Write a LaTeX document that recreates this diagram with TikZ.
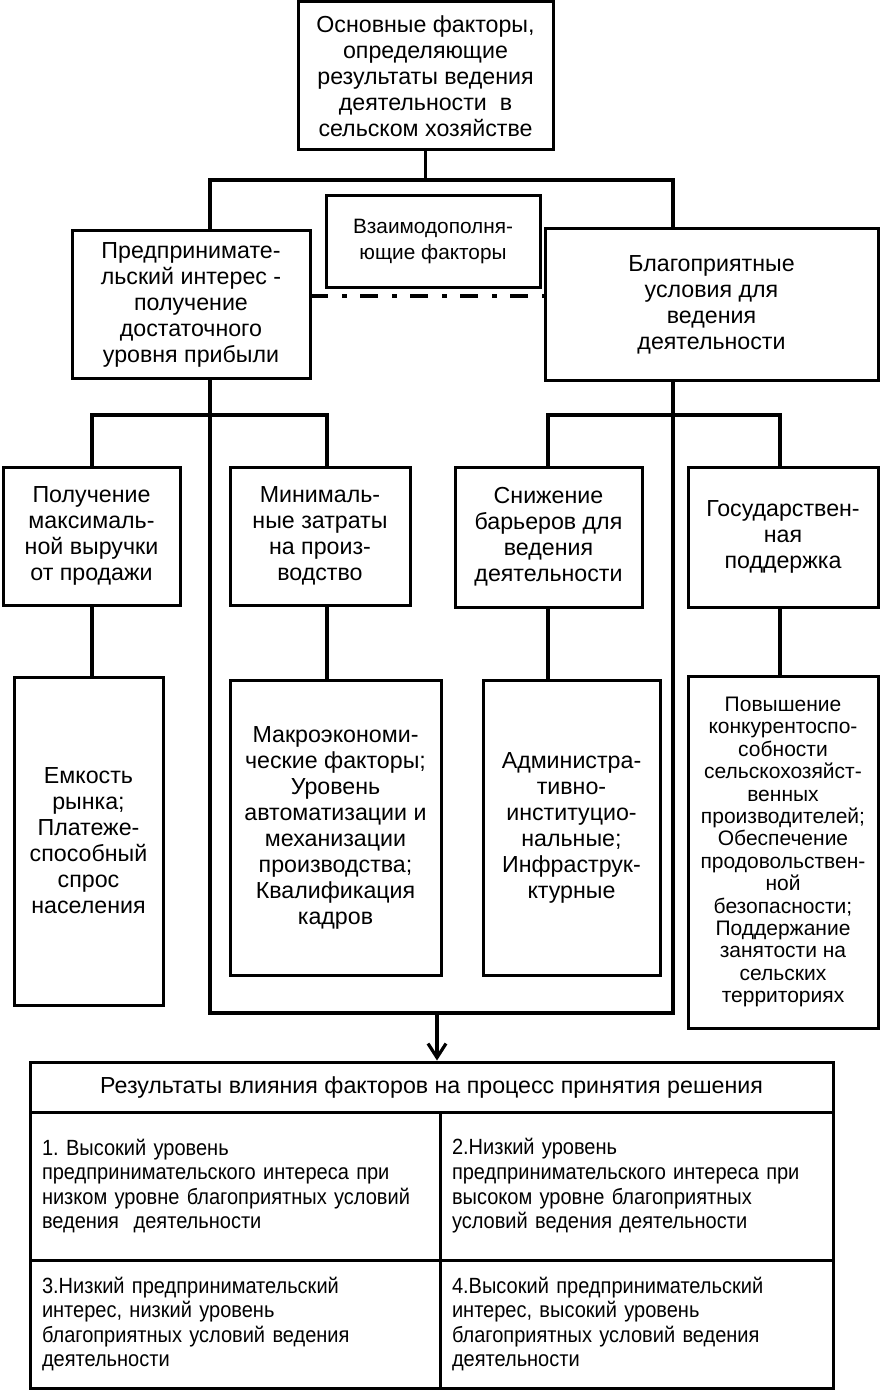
\documentclass[tikz,border=0pt]{standalone}
\usepackage{fontspec}
\setmainfont{Liberation Sans}
\newfontfamily\narrowfont[FakeStretch=0.91]{Liberation Sans}
\usetikzlibrary{arrows.meta}
\frenchspacing

\begin{document}
\begin{tikzpicture}[x=0.5pt,y=-0.5pt,
    box/.style={draw,line width=1.5pt,align=center,inner sep=0pt,font=\fontsize{11.6}{13}\selectfont},
    cell/.style={draw,line width=1.5pt,align=left,inner sep=6pt,font=\narrowfont\fontsize{11}{12.3}\selectfont},
    link/.style={line width=1.6pt}]
                \useasboundingbox (0,0) rectangle (881,1390);
                % top and first level
                \node[box,minimum width=127.5pt,minimum height=74pt] (top) at (425.5,76) {Основные факторы,\\определяющие\\результаты ведения\\деятельности\ \ в\\сельском хозяйстве};
                \node[box,minimum width=107pt,minimum height=46pt,font=\fontsize{10.4}{13}\selectfont] (mutual) at (433,242) {Взаимодополня-\\ющие факторы};
                \node[box,minimum width=119pt,minimum height=73.5pt] (interest) at (191,304.5) {Предпринимате-\\льский интерес -\\получение\\достаточного\\уровня прибыли};
                \node[box,minimum width=166.5pt,minimum height=75.5pt] (terms) at (711.5,304.5) {Благоприятные\\условия для\\ведения\\деятельности};
                % second level
                \node[box,minimum width=88.5pt,minimum height=69pt] (revenue) at (91.5,536) {Получение\\максималь-\\ной выручки\\от продажи};
                \node[box,minimum width=90pt,minimum height=69pt] (costs) at (320,536) {Минималь-\\ные затраты\\на произ-\\водство};
                \node[box,minimum width=93.5pt,minimum height=70pt] (barriers) at (548.5,537) {Снижение\\барьеров для\\ведения\\деятельности};
                \node[box,minimum width=95pt,minimum height=70pt] (support) at (783,537) {Государствен-\\ная\\поддержка};
                % third level
                \node[box,minimum width=74.5pt,minimum height=164pt] (market) at (88.5,841) {Емкость\\рынка;\\Платеже-\\способный\\спрос\\населения};
                \node[box,minimum width=105.5pt,minimum height=147.5pt] (macro) at (335.5,827.5) {Макроэкономи-\\ческие факторы;\\Уровень\\автоматизации и\\механизации\\производства;\\Квалификация\\кадров};
                \node[box,minimum width=88.5pt,minimum height=147.5pt] (admin) at (571.5,827.5) {Администра-\\тивно-\\институцио-\\нальные;\\Инфраструк-\\ктурные};
                \node[box,minimum width=95pt,minimum height=176pt,font=\fontsize{10.5}{11.2}\selectfont] (state) at (783,852) {Повышение\\конкурентоспо-\\собности\\сельскохозяйст-\\венных\\производителей;\\Обеспечение\\продовольствен-\\ной\\безопасности;\\Поддержание\\занятости на\\сельских\\территориях};
                % results table
                \node[draw,line width=1.5pt,minimum width=401.5pt,minimum height=25pt,inner sep=0pt,font=\fontsize{11.6}{13}\selectfont] (result) at (431.5,1087) {Результаты влияния факторов на процесс принятия решения};
                \node[cell,minimum height=74pt,text width=193pt] (case1) at (235,1186) {1. Высокий уровень\\предпринимательского интереса при\\низком уровне благоприятных условий\\ведения\ \ деятельности};
                \node[cell,minimum height=74pt,text width=184.5pt] (case2) at (636.5,1186) {2.Низкий уровень\\предпринимательского интереса при\\высоком уровне благоприятных\\условий ведения деятельности};
                \node[cell,minimum height=64pt,text width=193pt] (case3) at (235,1324) {3.Низкий предпринимательский\\интерес, низкий уровень\\благоприятных условий ведения\\деятельности};
                \node[cell,minimum height=64pt,text width=184.5pt] (case4) at (636.5,1324) {4.Высокий предпринимательский\\интерес, высокий уровень\\благоприятных условий ведения\\деятельности};
                % connectors
                \coordinate (barL) at (210,180);
                \coordinate (barR) at (673,180);
                \coordinate (kA) at (92,415);
                \coordinate (kB) at (327,415);
                \coordinate (kC) at (548,415);
                \coordinate (kD) at (780,415);
                \coordinate (fL) at (210,1013);
                \coordinate (fR) at (673,1013);
                \coordinate (fA) at (437,1013);
                \coordinate (dash) at (310,296);
                \draw[link] (top.south) -- (top.south |- barL);
                \draw[link] (barL |- interest.north) -- (barL) -- (barR) -- (barR |- terms.north);
                \draw[line width=2pt,dash pattern=on 9pt off 7pt on 2.5pt off 6.5pt] (dash) -- (dash -| terms.west);
                \draw[link] (barL |- interest.south) -- (fL) -- (fR) -- (barR |- terms.south);
                \draw[link] (kA |- revenue.north) -- (kA) -- (kB) -- (kB |- costs.north);
                \draw[link] (kC |- barriers.north) -- (kC) -- (kD) -- (kD |- support.north);
                \draw[link] (kA |- revenue.south) -- (kA |- market.north);
                \draw[link] (kB |- costs.south) -- (kB |- macro.north);
                \draw[link] (kC |- barriers.south) -- (kC |- admin.north);
                \draw[link] (kD |- support.south) -- (kD |- state.north);
                \draw[link,-{Straight Barb[length=7pt,width=9pt]}] (fA) -- (fA |- result.north);
            \end{tikzpicture}
\end{document}
